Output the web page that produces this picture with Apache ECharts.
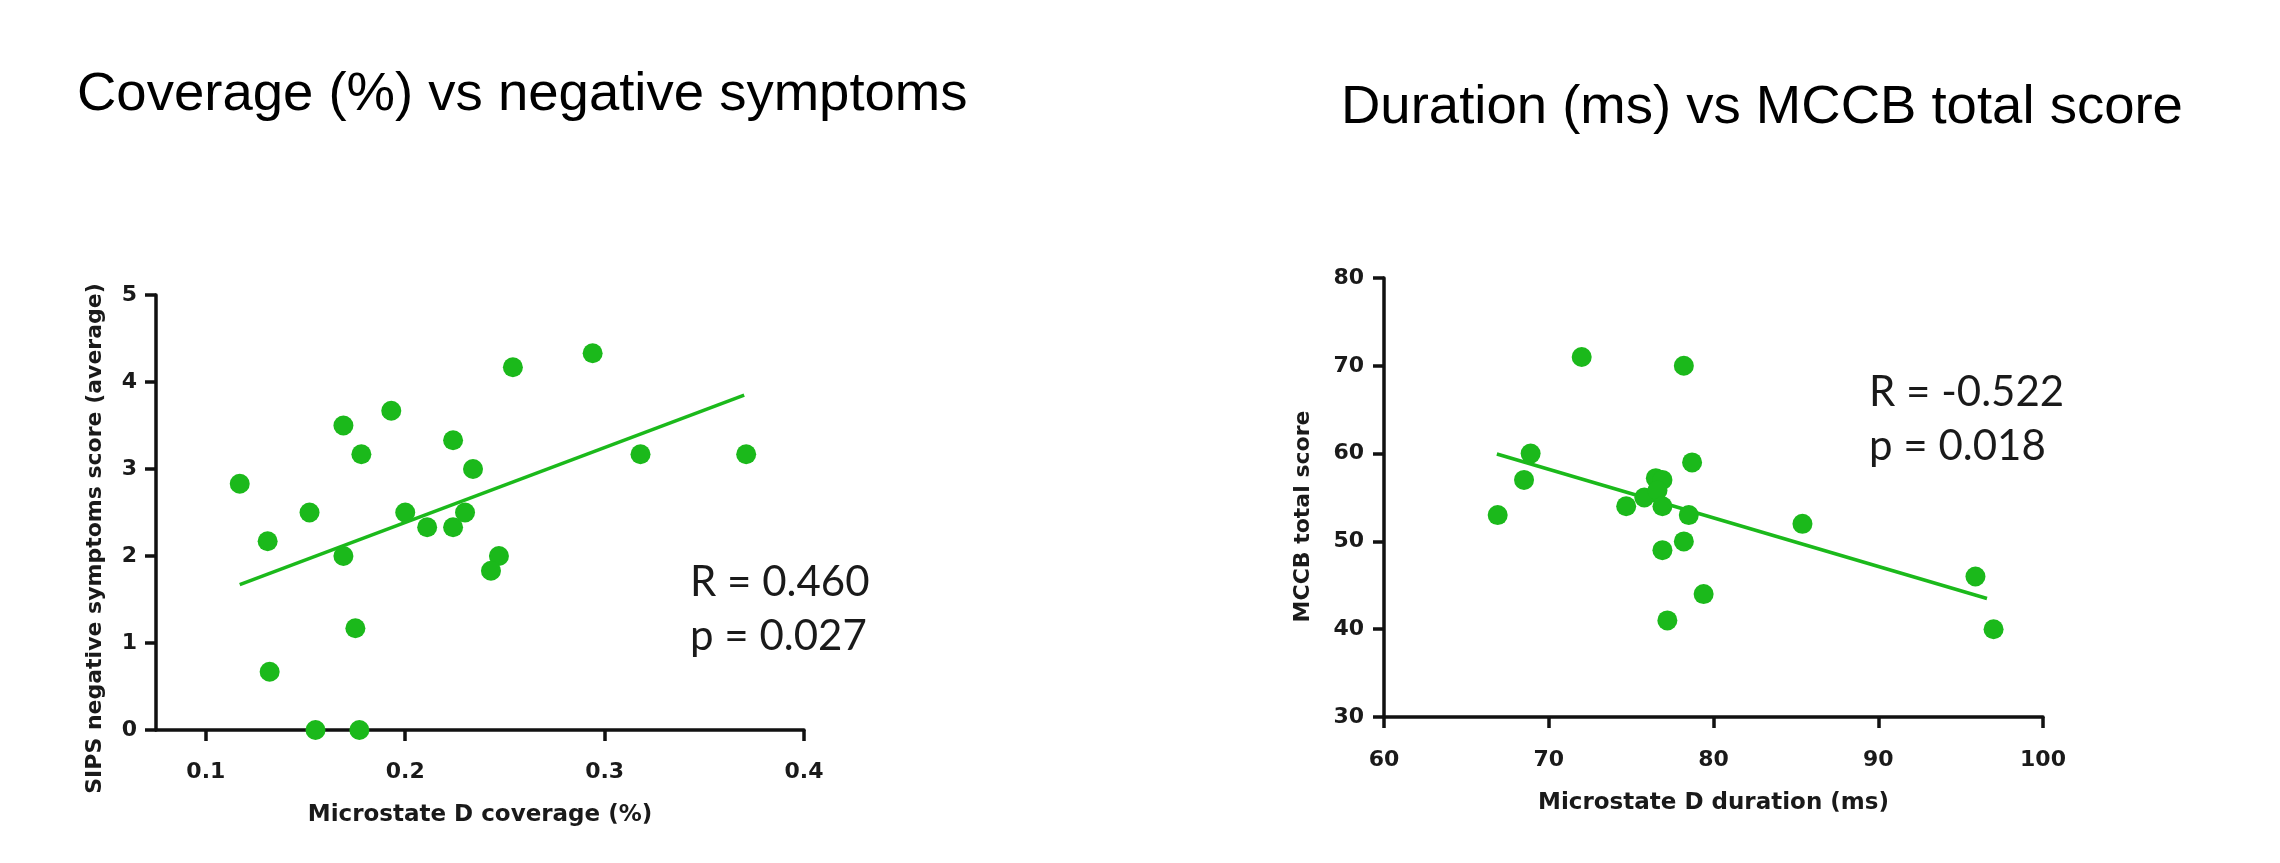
<!DOCTYPE html>
<html>
<head>
<meta charset="utf-8">
<script src="https://cdn.jsdelivr.net/npm/echarts@6/dist/echarts.min.js"></script>
<style>
html,body{margin:0;padding:0;background:#fff;}
#chart{width:2280px;height:863px;}
</style>
</head>
<body>
<div id="chart"></div>
<script>
// Left panel: Microstate D coverage vs SIPS negative symptoms
const coverageX = [0.117,0.131,0.132,0.152,0.155,0.169,0.169,0.178,0.175,0.177,0.193,0.200,0.211,0.224,0.224,0.230,0.234,0.247,0.243,0.254,0.294,0.318,0.371];
const sipsY     = [2.83,2.17,0.67,2.50,0.00,3.50,2.00,3.17,1.17,0.00,3.67,2.50,2.33,3.33,2.33,2.50,3.00,2.00,1.83,4.17,4.33,3.17,3.17];
const leftFitX  = [0.117,0.370];
const leftFitY  = [1.67,3.85];
const leftXTicks = [0.1,0.2,0.3,0.4];

// Right panel: Microstate D duration vs MCCB total score
const durationX = [66.9,68.5,68.9,72.0,74.7,75.8,76.5,76.9,76.6,76.9,76.9,77.2,78.2,78.7,78.5,78.2,79.4,85.4,95.9,97.0];
const mccbY     = [53,57,60,71,54,55,57.2,57,55.8,54,49,41,70,59,53,50,44,52,46,40];
const rightFitX = [66.85,96.6];
const rightFitY = [59.96,43.5];

const titles = ['Coverage (%) vs negative symptoms','Duration (ms) vs MCCB total score'];
const stats  = ['R = 0.460\np = 0.027','R = -0.522\np = 0.018'];

const GREEN = '#1bb91b';
const INK = '#111';
const labelFont = {fontFamily:'DejaVu Sans', fontWeight:'bold', fontSize:22, color:'#1a1a1a'};
const xNameFont = {fontFamily:'DejaVu Sans', fontWeight:'bold', fontSize:23, color:'#1a1a1a'};
const yNameFont = {fontFamily:'DejaVu Sans', fontWeight:'bold', fontSize:22, color:'#1a1a1a'};
const titleFont = {fontFamily:'Liberation Sans', fontWeight:'normal', fontSize:54.5, lineHeight:54, color:'#000'};
const statFont  = {fontFamily:'Lato', fontWeight:'normal', fontSize:42, lineHeight:54, color:'#1a1a1a'};

function axisBase(){
  return {
    type:'value',
    splitLine:{show:false},
    axisLine:{show:true, onZero:false, lineStyle:{color:INK, width:3.5}},
    axisTick:{show:true, length:11, lineStyle:{color:INK, width:3.5}},
  };
}

const pairs = (xs, ys) => xs.map((x,i)=>[x, ys[i]]);

const chart = echarts.init(document.getElementById('chart'), null, {renderer:'canvas'});
chart.setOption({
  animation:false,
  backgroundColor:'#fff',
  title:[
    {text:titles[0], left:72, top:63, textStyle:titleFont},
    {text:titles[1], left:1336, top:76, textStyle:titleFont},
    {text:stats[0], left:685, top:550, textStyle:statFont},
    {text:stats[1], left:1864, top:360, textStyle:statFont}
  ],
  grid:[
    {left:156, top:295, width:648, height:435},
    {left:1384, top:278, width:659, height:439}
  ],
  xAxis:[
    Object.assign(axisBase(), {
      gridIndex:0, min:0.075, max:0.4,
      axisTick:{show:true, length:11, customValues:leftXTicks, lineStyle:{color:INK, width:3.5}},
      axisLabel:Object.assign({customValues:leftXTicks, margin:31, formatter:v=>v.toFixed(1)}, labelFont),
      name:'Microstate D coverage (%)', nameLocation:'middle', nameGap:74, nameTextStyle:xNameFont
    }),
    Object.assign(axisBase(), {
      gridIndex:1, min:60, max:100, interval:10,
      axisLabel:Object.assign({margin:32}, labelFont),
      name:'Microstate D duration (ms)', nameLocation:'middle', nameGap:75, nameTextStyle:xNameFont
    })
  ],
  yAxis:[
    Object.assign(axisBase(), {
      gridIndex:0, min:0, max:5, interval:1,
      axisLabel:Object.assign({margin:19}, labelFont),
      name:'SIPS negative symptoms score (average)', nameLocation:'middle', nameGap:50,
      nameTextStyle:Object.assign({padding:[0,52,0,0]}, yNameFont)
    }),
    Object.assign(axisBase(), {
      gridIndex:1, min:30, max:80, interval:10,
      axisLabel:Object.assign({margin:20}, labelFont),
      name:'MCCB total score', nameLocation:'middle', nameGap:70,
      nameTextStyle:Object.assign({padding:[0,38,0,0]}, yNameFont)
    })
  ],
  series:[
    {type:'line', xAxisIndex:0, yAxisIndex:0, data:pairs(leftFitX,leftFitY), showSymbol:false, symbol:'none', z:2,
     lineStyle:{color:GREEN, width:3.5}},
    {type:'scatter', xAxisIndex:0, yAxisIndex:0, data:pairs(coverageX,sipsY), symbolSize:20, z:3,
     itemStyle:{color:GREEN, opacity:1}},
    {type:'line', xAxisIndex:1, yAxisIndex:1, data:pairs(rightFitX,rightFitY), showSymbol:false, symbol:'none', z:2,
     lineStyle:{color:GREEN, width:3.5}},
    {type:'scatter', xAxisIndex:1, yAxisIndex:1, data:pairs(durationX,mccbY), symbolSize:20, z:3,
     itemStyle:{color:GREEN, opacity:1}}
  ]
});
</script>
</body>
</html>
